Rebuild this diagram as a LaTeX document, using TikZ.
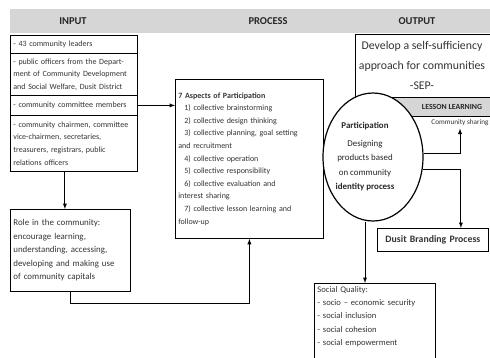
\documentclass[tikz,border=0pt]{standalone}
\usepackage{fontspec}
\setmainfont{Carlito}
\usetikzlibrary{shapes.geometric}

\begin{document}
\begin{tikzpicture}[x=1pt, y=-1pt, >=latex,
  font=\fontsize{8}{12.6}\selectfont, line width=0.8pt,
  box/.style={draw, rectangle, anchor=north west, align=left, inner sep=3pt,
              text=black!80},
  head/.style={font=\fontsize{10.5}{12}\selectfont\bfseries, text=black!85},
  band/.style={fill=black!16, draw=none},
  conn/.style={->, line width=0.9pt}]

\useasboundingbox (0,0) rectangle (490,357);

% column headers
\fill[band] (10,9) rectangle (490,33);
\node[head] (hin)  at (73,21)  {INPUT};
\node[head] (hpro) at (268,21) {PROCESS};
\node[head] (hout) at (417,21) {OUTPUT};

% input column
\node[box, text width=121pt, minimum width=127pt, minimum height=18pt] (in1) at (10,35)
     {- 43 community leaders};
\node[box, text width=121pt, minimum width=127pt, minimum height=42pt] (in2) at (10,53)
     {- public officers from the Depart-\\ ment of Community Development\\ and Social Welfare, Dusit District};
\node[box, text width=121pt, minimum width=127pt, minimum height=20pt] (in3) at (10,95)
     {- community committee members};
\node[box, text width=121pt, minimum width=127pt, minimum height=56pt] (in4) at (10,115)
     {- community chairmen, committee\\ vice-chairmen, secretaries,\\ treasurers, registrars, public\\ relations officers};

\node[box, text width=114pt, minimum width=120pt, minimum height=82pt,
      font=\fontsize{8.9}{13.5}\selectfont] (role) at (10,209)
     {Role in the community:\\ encourage learning,\\ understanding, accessing,\\ developing and making use\\ of community capitals};

% process
\node[box, text width=142pt, minimum width=148pt, minimum height=159pt] (proc) at (175,79)
     {\textbf{7 Aspects of Participation}\\
      \hspace*{6pt}1) collective brainstorming\\
      \hspace*{6pt}2) collective design thinking\\
      \hspace*{6pt}3) collective planning, goal setting\\
      and recruitment\\
      \hspace*{6pt}4) collective operation\\
      \hspace*{6pt}5) collective responsibility\\
      \hspace*{6pt}6) collective evaluation and\\
      interest sharing\\
      \hspace*{6pt}7) collective lesson learning and\\
      follow-up\\[5pt]};

% output
\node[box, minimum width=137pt, minimum height=63pt] (sep) at (355,34) {};
\node[align=center, text=black!80, font=\fontsize{11.8}{20}\selectfont] (septext) at (422,65)
     {Develop a self-sufficiency\\ approach for communities\\ -SEP-};
\node[box, band, draw, minimum width=137pt, minimum height=19pt] (lesson) at (355,97) {};
\node[font=\fontsize{7.8}{9}\selectfont\bfseries, text=black!85] (lbl) at (452,106.5) {LESSON LEARNING};
\node[font=\fontsize{7.2}{8}\selectfont, text=black!80, inner sep=2pt] (share) at (460,123) {Community sharing};

\node[draw, ellipse, fill=white, line width=1.2pt, minimum width=100pt, minimum height=128pt] (part) at (373,157) {};
\node[align=center, text=black!85, font=\fontsize{8.9}{14.5}\selectfont] (parttext) at (365,157)
     {\textbf{Participation}\\[3pt] Designing\\ products based\\ on community\\ \textbf{identity process}};

\node[box, align=center, text width=105pt, minimum width=111pt, minimum height=23pt,
      font=\fontsize{9.8}{11}\selectfont\bfseries] (dusit) at (377,228) {Dusit Branding Process};

\node[box, text width=115pt, minimum width=121pt, text depth=68pt,
      font=\fontsize{8.6}{13.3}\selectfont] (social) at (314,283)
     {Social Quality:\\ - socio -- economic security\\ - social inclusion\\ - social cohesion\\ - social empowerment};

% connectors
\draw[conn] (in3.east) -- (proc.west |- in3.east);
\draw[conn] ([xshift=-9pt]in4.south) -- ([xshift=-9pt]in4.south |- role.north);
\draw[conn] (role.south) -- ++(0,12) -| (proc.south);
\draw[conn] ([yshift=4pt]part.east) -| (share.south);
\draw[conn] (part.-14) -| ([xshift=28pt]dusit.north);
\draw[conn] ([xshift=-8pt]part.south) -- ([xshift=-8pt]part.south |- social.north);
\end{tikzpicture}
\end{document}
